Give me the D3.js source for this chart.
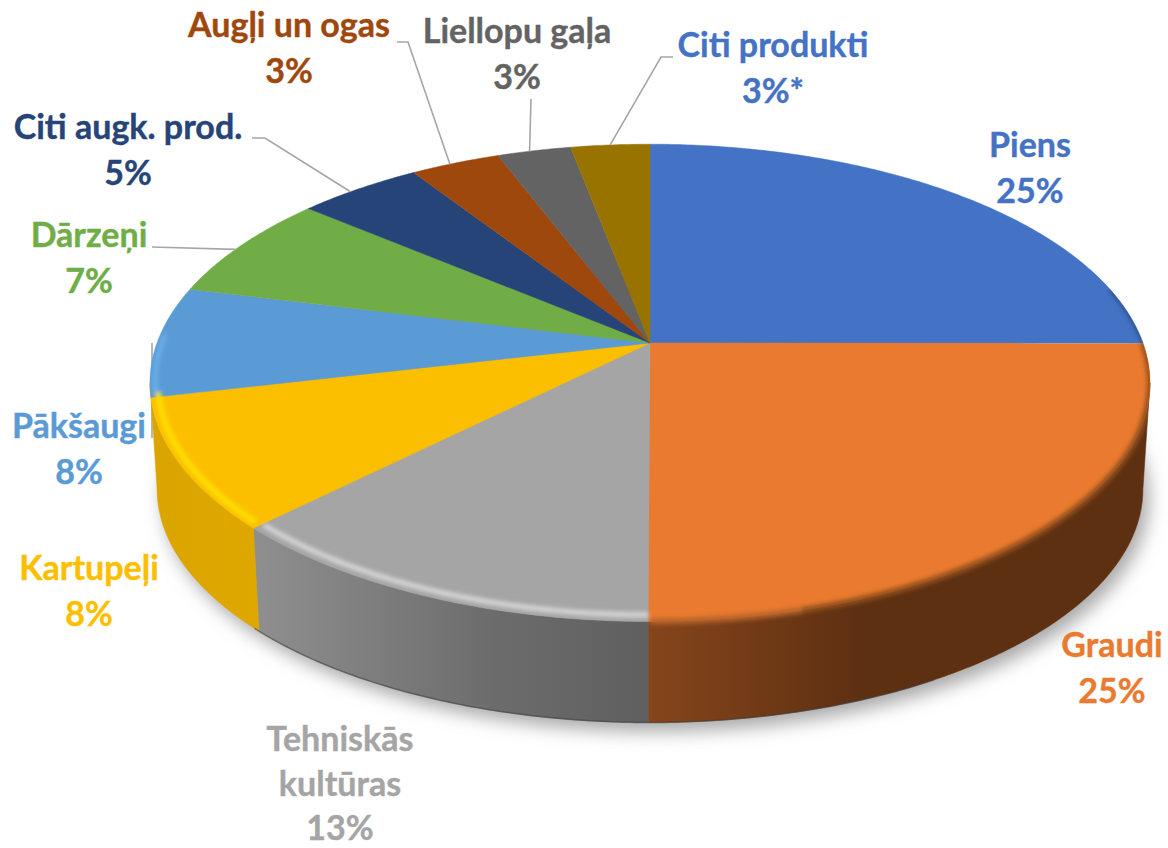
<!DOCTYPE html>
<html>
<head>
<meta charset="utf-8">
<script src="https://cdn.jsdelivr.net/npm/d3@7"></script>
<style>
  html, body { margin: 0; padding: 0; background: #fff; }
  text { font-family: Lato, "Open Sans", sans-serif; font-weight: 700; font-size: 34px; text-anchor: middle; stroke-width: 0.4px; }
</style>
</head>
<body>
<div id="chart"></div>
<script>
// Values
var categories = ["Piens", "Graudi", "Tehniskās kultūras", "Kartupeļi", "Pākšaugi", "Dārzeņi", "Citi augk. prod.", "Augļi un ogas", "Liellopu gaļa", "Citi produkti"];
var shares = [25, 25, 12.5, 8.8, 7.5, 7.2, 4.7, 3.4, 2.8, 3.0];
var percentLabels = ["25%", "25%", "13%", "8%", "8%", "7%", "5%", "3%", "3%", "3%*"];
var sliceColors = ["#4472c4", "#e97a30", "#a5a5a5", "#fcbf00", "#5b9bd5", "#70ad47", "#264478", "#9e480e", "#636363", "#997300"];
var textColors = ["#4472c4", "#e97a30", "#a5a5a5", "#fcbf00", "#5b9bd5", "#70ad47", "#264478", "#9e480e", "#636363", "#4472c4"];

var svgWidth = 1168;
var svgHeight = 848;

// label layout: text lines, centre x, first baseline
var labelLayout = [
    { lines: ["Piens"], x: 1030, y: 157 },
    { lines: ["Graudi"], x: 1112, y: 657 },
    { lines: ["Tehniskās", "kultūras"], x: 340, y: 751, step: 44.5 },
    { lines: ["Kartupeļi"], x: 89, y: 580 },
    { lines: ["Pākšaugi"], x: 79, y: 438 },
    { lines: ["Dārzeņi"], x: 89, y: 247 },
    { lines: ["Citi augk. prod."], x: 128, y: 139 },
    { lines: ["Augļi un ogas"], x: 289, y: 37 },
    { lines: ["Liellopu gaļa"], x: 517, y: 43 },
    { lines: ["Citi produkti"], x: 773, y: 57 }
];
var lineHeight = 46;

// elbows of the leader lines, the last point comes from the slice itself (at = share of the slice's angle)
var leaders = [
    { slice: 5, at: 0.45, points: [[152, 247]] },
    { slice: 6, at: 0.42, points: [[252, 138], [265, 138]] },
    { slice: 7, at: 0.44, points: [[397, 42], [408, 42]] },
    { slice: 8, at: 0.44, points: [[531, 99]] },
    { slice: 9, at: 0.5, points: [[673, 57], [661, 57]] }
];

// the flat disc in perspective: top face and lower face
var topFace = { cx: 650, cy: 343, a: 493, b: 232, k: 0.167 };
var lowFace = { cx: 650, cy: 450, a: 486, b: 227, k: 0.167 };

function project(face, angle, r) {
    var u = Math.sin(angle) * r;
    var v = -Math.cos(angle) * r;
    var w = 1 - face.k * v;
    return [face.cx + face.a * u / w, face.cy + face.b * v / w];
}

function arcPoints(face, a0, a1, r) {
    var n = Math.max(2, Math.ceil(Math.abs(a1 - a0) / 0.01));
    return d3.range(n + 1).map(function(i) {
        return project(face, a0 + (a1 - a0) * i / n, r);
    });
}

var line = d3.line();
var color = d3.scaleOrdinal().domain(categories).range(sliceColors);
var textColor = d3.scaleOrdinal().domain(categories).range(textColors);

var pieData = d3.pie().sort(null).value(function(d) { return d; })(shares);

var svg = d3.select("#chart")
    .append("svg")
    .attr("width", svgWidth)
    .attr("height", svgHeight)
    .style("display", "block");

var defs = svg.append("defs");

defs.append("filter").attr("id", "shadowBlur")
    .attr("x", "-10%").attr("y", "-10%").attr("width", "120%").attr("height", "120%")
    .append("feGaussianBlur").attr("stdDeviation", 9);

defs.append("filter").attr("id", "rimBlur")
    .attr("x", "-10%").attr("y", "-10%").attr("width", "120%").attr("height", "120%")
    .append("feGaussianBlur").attr("stdDeviation", 2);

function sideGradient(id, x1, x2, stops) {
    var g = defs.append("linearGradient").attr("id", id)
        .attr("gradientUnits", "userSpaceOnUse")
        .attr("x1", x1).attr("x2", x2).attr("y1", 0).attr("y2", 0);
    stops.forEach(function(s) {
        g.append("stop").attr("offset", s[0]).attr("stop-color", s[1]);
    });
}
sideGradient("sideOrange", 650, 860, [[0, "#85451b"], [1, "#5e3012"]]);
sideGradient("sideGray", 262, 650, [[0, "#8e8e8e"], [0.6, "#6c6c6c"], [1, "#5f5f5f"]]);
sideGradient("sideYellow", 155, 262, [[0, "#dba500"], [1, "#dfa800"]]);

var sideFills = { 1: "url(#sideOrange)", 2: "url(#sideGray)", 3: "url(#sideYellow)" };

// the wall runs between the two points where the disc is widest
var wallStart = 99.6 * Math.PI / 180;
var wallEnd = 260.4 * Math.PI / 180;

function wallPoints(a0, a1) {
    return arcPoints(topFace, a0, a1, 1).concat(arcPoints(lowFace, a1, a0, 1));
}

// soft shadow under the disc
svg.append("path")
    .attr("d", line(arcPoints(lowFace, 0, 2 * Math.PI, 1)) + "Z")
    .attr("transform", "translate(6, 9)")
    .attr("fill", "#a8a8a8")
    .attr("filter", "url(#shadowBlur)");

// this one runs behind the disc
var hiddenLeader = [[152, 343], [152, 438]];
svg.append("path")
    .attr("d", line(hiddenLeader))
    .attr("fill", "none")
    .attr("stroke", "#a6a6a6")
    .attr("stroke-width", 1.6);

// side wall of the front slices
var sideGroup = svg.append("g");
pieData.forEach(function(d, i) {
    if (!sideFills[i]) return;
    var a0 = Math.max(d.startAngle, wallStart);
    var a1 = i === 3 ? wallEnd : d.endAngle;
    sideGroup.append("path")
        .attr("d", line(wallPoints(a0, a1)) + "Z")
        .attr("fill", sideFills[i])
        .attr("stroke", sideFills[i])
        .attr("stroke-width", 0.5);
});

// thin dark line at the foot of the wall
svg.append("path")
    .attr("d", line(arcPoints(lowFace, 150 * Math.PI / 180, 226 * Math.PI / 180, 1)))
    .attr("fill", "none")
    .attr("stroke", "#3a3a3a")
    .attr("stroke-opacity", 0.55)
    .attr("stroke-width", 1.5);

// top face
svg.append("g").selectAll("path")
    .data(pieData)
    .enter()
    .append("path")
    .attr("d", function(d) {
        return line([[topFace.cx, topFace.cy]].concat(arcPoints(topFace, d.startAngle, d.endAngle, 1))) + "Z";
    })
    .attr("fill", function(d, i) { return color(categories[i]); })
    .attr("stroke", function(d, i) { return color(categories[i]); })
    .attr("stroke-width", 0.5);

// bevel light along the rim: slice, from, to (degrees), radius, colour, width
var rimSlices = [0, 1, 1, 2, 3, 4];
var rimFrom = [76, 90, 165, 180, 226, 258];
var rimTo = [90, 165, 180, 225, 258, 272];
var rimRadius = [1, 1, 1, 0.98, 0.985, 0.99];
var rimColors = ["#27446f", "#92501f", "#b5622a", "#d8d8d8", "#ffdf00", "#6cb4ee"];
var rimWidths = [3, 6, 6, 5, 6, 4];

// keep the soft rim inside the disc and its wall
var rimClip = defs.append("clipPath").attr("id", "discClip");
rimClip.append("path").attr("d", line(arcPoints(topFace, 0, 2 * Math.PI, 1)) + "Z");
rimClip.append("path").attr("d", line(wallPoints(wallStart, wallEnd)) + "Z");

var rimGroup = svg.append("g")
    .attr("clip-path", "url(#discClip)")
    .append("g")
    .attr("filter", "url(#rimBlur)");
rimSlices.forEach(function(s, i) {
    var a0 = Math.max(rimFrom[i] * Math.PI / 180, pieData[s].startAngle);
    var a1 = rimTo[i] * Math.PI / 180;
    rimGroup.append("path")
        .attr("d", line(arcPoints(topFace, a0, a1, rimRadius[i])))
        .attr("fill", "none")
        .attr("stroke", rimColors[i])
        .attr("stroke-width", rimWidths[i]);
});

// leader lines
svg.append("g").selectAll("path")
    .data(leaders)
    .enter()
    .append("path")
    .attr("d", function(d) {
        var p = pieData[d.slice];
        var end = project(topFace, p.startAngle + (p.endAngle - p.startAngle) * d.at, 1);
        return line(d.points.concat([end]));
    })
    .attr("fill", "none")
    .attr("stroke", "#a6a6a6")
    .attr("stroke-width", 1.6);

// labels
var labels = svg.append("g").selectAll("text")
    .data(labelLayout)
    .enter()
    .append("text")
    .attr("x", function(d) { return d.x; })
    .attr("y", function(d) { return d.y; })
    .attr("fill", function(d, i) { return textColor(categories[i]); })
    .attr("stroke", function(d, i) { return textColor(categories[i]); });

labels.each(function(d, i) {
    var t = d3.select(this);
    var step = d.step || lineHeight;
    d.lines.concat([percentLabels[i]]).forEach(function(s, j) {
        t.append("tspan")
            .attr("x", d.x)
            .attr("y", d.y + j * step)
            .text(s);
    });
});
</script>
</body>
</html>
